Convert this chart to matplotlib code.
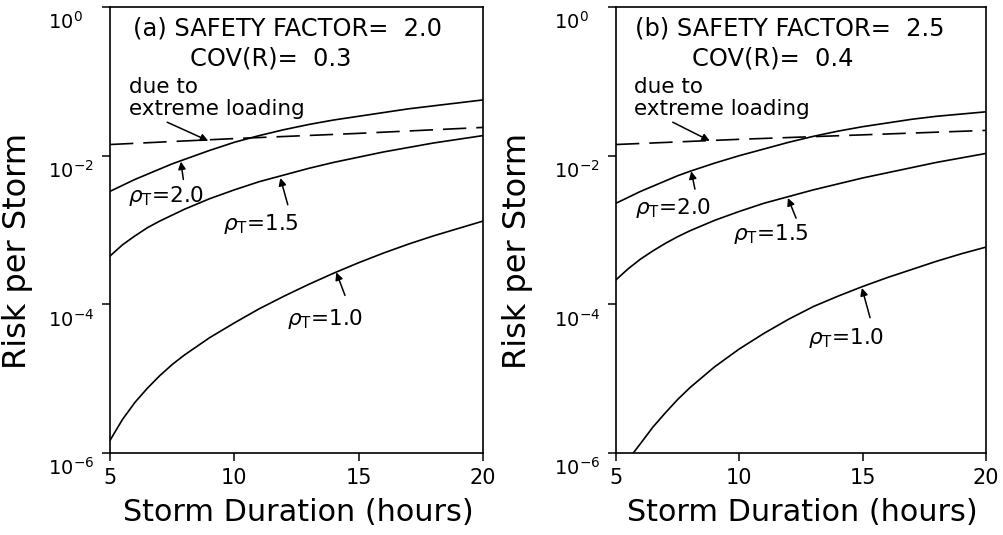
import matplotlib
matplotlib.use("Agg")
import matplotlib.pyplot as plt
import numpy as np
from matplotlib.transforms import ScaledTranslation

plt.rcParams['font.family'] = ['DejaVu Sans']
plt.rcParams['mathtext.fontset'] = 'dejavusans'

# ---------------- data (log10 of risk per storm) ----------------
hours = [5, 5.5, 6, 6.5, 7, 7.5, 8, 9, 10, 11, 12, 13, 14, 15, 16, 17, 18, 19, 20]

# panel (a): safety factor 2.0, COV(R)=0.3
a_rho10 = [-5.83, -5.55, -5.32, -5.13, -4.96, -4.81, -4.68, -4.45, -4.25, -4.06, -3.89, -3.73,
           -3.58, -3.44, -3.31, -3.19, -3.08, -2.98, -2.88]
a_rho15 = [-3.35, -3.20, -3.08, -2.97, -2.88, -2.80, -2.72, -2.58, -2.46, -2.35, -2.26, -2.17,
           -2.09, -2.02, -1.95, -1.89, -1.83, -1.78, -1.73]
a_rho20 = [-2.48, -2.40, -2.32, -2.25, -2.18, -2.11, -2.05, -1.93, -1.82, -1.73, -1.65, -1.58,
           -1.52, -1.47, -1.42, -1.37, -1.33, -1.29, -1.25]
ext_hours = [5, 10, 15, 20]
a_extreme = [-1.85, -1.77, -1.70, -1.62]

# panel (b): safety factor 2.5, COV(R)=0.4
b_rho10_hours = [5.7, 6, 6.5, 7, 7.5, 8, 9, 10, 11, 12, 13, 14, 15, 16, 17, 18, 19, 20]
b_rho10 = [-6.0, -5.87, -5.65, -5.46, -5.28, -5.12, -4.84, -4.60, -4.39, -4.20, -4.03, -3.89,
           -3.76, -3.64, -3.53, -3.42, -3.32, -3.23]
b_rho15 = [-3.67, -3.52, -3.39, -3.28, -3.18, -3.09, -3.01, -2.87, -2.75, -2.64, -2.55, -2.46,
           -2.38, -2.30, -2.23, -2.16, -2.09, -2.03, -1.97]
b_rho20 = [-2.64, -2.56, -2.48, -2.41, -2.34, -2.27, -2.21, -2.10, -2.00, -1.91, -1.82, -1.74,
           -1.67, -1.61, -1.56, -1.51, -1.47, -1.44, -1.41]
b_extreme = [-1.85, -1.78, -1.72, -1.66]

xticks = [5, 10, 15, 20]
xticklabels = ['5', '10', '15', '20']
yticks = [1e-6, 1e-4, 1e-2, 1e0]
yticklabels = [r'$10^{-6}$', r'$10^{-4}$', r'$10^{-2}$', r'$10^{0}$']

titles = [("(a) SAFETY FACTOR=  2.0", "COV(R)=  0.3"),
          ("(b) SAFETY FACTOR=  2.5", "COV(R)=  0.4")]
title_x = [(0.477, 0.432), (0.47, 0.424)]

# label/arrow anchors: (text_x, text_logy, tail_x, tail_logy, tip_x, tip_logy)
a_labels = {
    'rho20': (5.72, -2.62, 7.95, -2.32, 7.85, -2.08),
    'rho15': (9.54, -3.00, 12.15, -2.66, 11.85, -2.30),
    'rho10': (12.12, -4.28, 14.45, -3.88, 14.1, -3.57),
    'ext':   (7.3, -1.55, 8.95, -1.80),
}
b_labels = {
    'rho20': (5.77, -2.79, 8.2, -2.45, 8.05, -2.21),
    'rho15': (9.74, -3.13, 12.3, -2.84, 11.97, -2.57),
    'rho10': (12.78, -4.54, 15.3, -4.18, 14.97, -3.78),
    'ext':   (7.3, -1.55, 8.8, -1.80),
}

# ---------------- figure ----------------
fig = plt.figure(figsize=(10.04, 5.35), dpi=100)
W, H = 1004, 535
ax1 = fig.add_axes([110 / W, (H - 453) / H, 373 / W, 446 / H])
ax2 = fig.add_axes([616 / W, (H - 453) / H, 370 / W, 446 / H])

LW = 1.2
fs_title = 17.4
fs_ann = 15.5
fs_xlab = 21.8
fs_ylab = 23


def arrow(ax, tail, tip):
    ax.annotate('', xy=tip, xytext=tail,
                arrowprops=dict(arrowstyle='-|>', lw=1.1, color='k',
                                mutation_scale=11, shrinkA=0, shrinkB=0))


def setup(ax, data, lab, title, tx, ylab_x):
    h10, r10, r15, r20, ev = data
    ax.plot(h10, np.power(10.0, r10), color='k', lw=LW)
    ax.plot(hours, np.power(10.0, r15), color='k', lw=LW)
    ax.plot(hours, np.power(10.0, r20), color='k', lw=LW)
    ax.plot(ext_hours, np.power(10.0, ev), color='k', lw=LW, dashes=(14, 6))
    ax.set_yscale('log')
    ax.set_xlim(5, 20)
    ax.set_ylim(1e-6, 1e0)
    ax.set_xticks(xticks)
    ax.set_xticklabels(xticklabels, fontsize=15)
    ax.set_yticks(yticks)
    ax.set_yticklabels(yticklabels, fontsize=14)
    ax.yaxis.set_minor_locator(matplotlib.ticker.NullLocator())
    ax.tick_params(axis='both', direction='out', length=6, width=1.1)
    ax.tick_params(axis='x', pad=5)
    ax.tick_params(axis='y', pad=2)
    for lbl in ax.get_yticklabels():
        lbl.set_horizontalalignment('left')
        lbl.set_verticalalignment('baseline')
        lbl.set_transform(lbl.get_transform() +
                          ScaledTranslation(-0.51, -0.22, fig.dpi_scale_trans))
    for s in ax.spines.values():
        s.set_linewidth(1.2)

    ax.text(tx[0], 0.935, title[0], transform=ax.transAxes,
            ha='center', va='baseline', fontsize=fs_title)
    ax.text(tx[1], 0.868, title[1], transform=ax.transAxes,
            ha='center', va='baseline', fontsize=fs_title)
    ax.text(0.05, 0.807, 'due to', transform=ax.transAxes,
            ha='left', va='baseline', fontsize=fs_ann)
    ax.text(0.05, 0.758, 'extreme loading', transform=ax.transAxes,
            ha='left', va='baseline', fontsize=fs_ann)

    ex, ey, ex2, ey2 = lab['ext']
    arrow(ax, (ex, 10 ** ey), (ex2, 10 ** ey2))
    for key, txt in (('rho20', '2.0'), ('rho15', '1.5'), ('rho10', '1.0')):
        lx, ly, tlx, tly, tpx, tpy = lab[key]
        ax.text(lx, 10 ** ly, r'$\rho_{\mathrm{T}}$=' + txt, ha='left',
                va='baseline', fontsize=fs_ann)
        arrow(ax, (tlx, 10 ** tly), (tpx, 10 ** tpy))

    ax.set_xlabel('Storm Duration (hours)', fontsize=fs_xlab)
    ax.xaxis.set_label_coords(0.505, -0.100)
    ax.xaxis.label.set_verticalalignment('top')
    ax.set_ylabel('Risk per Storm', fontsize=fs_ylab)
    ax.yaxis.set_label_coords(ylab_x, 0.453)


setup(ax1, (hours, a_rho10, a_rho15, a_rho20, a_extreme), a_labels, titles[0], title_x[0], -0.206)
setup(ax2, (b_rho10_hours, b_rho10, b_rho15, b_rho20, b_extreme), b_labels, titles[1], title_x[1], -0.224)

fig.savefig('out.png', dpi=100)
